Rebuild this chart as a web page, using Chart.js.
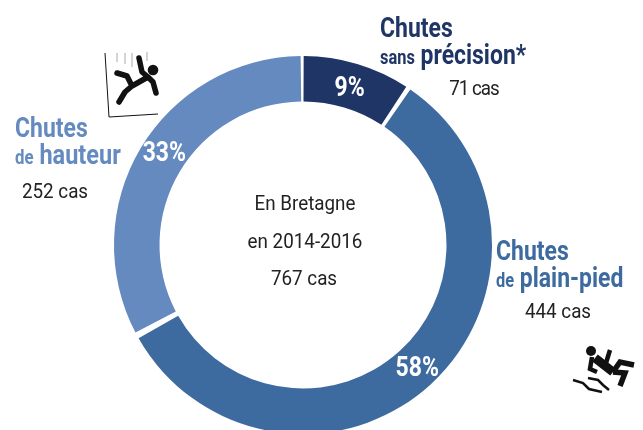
<!DOCTYPE html>
<html><head><meta charset="utf-8">
<script src="https://cdn.jsdelivr.net/npm/chart.js@4"></script>
<style>
html,body{margin:0;padding:0;background:#fff;width:643px;height:430px;overflow:hidden}
#wrap{position:relative;width:643px;height:430px;overflow:hidden}
canvas{position:absolute;left:0;top:0}
.t{position:absolute;white-space:nowrap;font-family:Roboto,sans-serif;line-height:1;color:#222}
.h{font-weight:700;font-size:28px;transform:scaleX(.82);transform-origin:0 0}
.s{font-size:20px}
.n{font-size:20px;color:#222;transform:scaleX(.94);transform-origin:50% 50%;text-align:center}
svg{position:absolute}
</style></head><body>
<div id="wrap">
<canvas id="c" width="643" height="436" style="width:643px;height:436px"></canvas>
<div class="t h" style="left:380px;top:14px;color:#1f3566">Chutes</div>
<div class="t h" style="left:380px;top:41px;color:#1f3566"><span class="s">sans</span> précision*</div>
<div class="t n" style="left:434px;top:78px;width:80px;letter-spacing:-1.1px">71 cas</div>
<div class="t h" style="left:496px;top:237px;color:#3d6b9f">Chutes</div>
<div class="t h" style="left:496px;top:264px;color:#3d6b9f"><span class="s">de</span> plain-pied</div>
<div class="t n" style="left:518px;top:301px;width:80px">444 cas</div>
<div class="t h" style="left:15px;top:114px;color:#648ac0">Chutes</div>
<div class="t h" style="left:15px;top:141px;color:#648ac0;transform:scaleX(.84)"><span class="s">de</span> hauteur</div>
<div class="t n" style="left:15px;top:181px;width:80px">252 cas</div>
<div class="t n" style="left:245px;top:193px;width:120px">En Bretagne</div>
<div class="t n" style="left:244px;top:231px;width:120px">en 2014-2016</div>
<div class="t n" style="left:264px;top:268px;width:80px">767 cas</div>
<svg style="left:90px;top:40px" width="90" height="90" viewBox="0 0 90 90" fill="none" stroke="#111">
<path d="M15 13L19 77L68 74" stroke-width="1"/>
<path d="M27 13V22M35 13V24M42 13V27M57 12V21" stroke="#aaa" stroke-width="1"/>
<circle cx="63" cy="30" r="5.3" fill="#111" stroke="none"/>
<path d="M49 18L52 32L58 37L42 46M58 37L63 42L66 53M27 33L37 36L42 46L35 52L29 62" stroke-width="5.5" stroke-linecap="round" stroke-linejoin="round"/>
</svg>
<svg style="left:560px;top:330px" width="83" height="80" viewBox="0 0 83 80" fill="none" stroke="#111">
<circle cx="31" cy="21" r="5" fill="#111" stroke="none"/>
<path d="M32 27L30 39L37 42" stroke-width="4.5"/>
<path d="M35 28L53 42" stroke-width="9"/>
<path d="M50 20L46 33" stroke-width="4.5"/>
<path d="M53 42L60 32L74 35M53 42L65 43L60 56" stroke-width="5.5"/>
<path d="M13 50L23 53L29 59L42 62M28 48L38 50L43 55L49 60" stroke-width="2.5"/>
</svg>
</div>
<script>
const categories = ["Chutes sans précision*", "Chutes de plain-pied", "Chutes de hauteur"];
const cases = [71, 444, 252];
const percentLabels = ["9%", "58%", "33%"];
const colors = ["#1f3566", "#3d6b9f", "#648ac0"];

const pctPlugin = {
  id: "pct",
  afterDatasetsDraw(chart) {
    const ctx = chart.ctx;
    const nudge = [[-1, 3], [2, 1], [4, -6]];
    chart.getDatasetMeta(0).data.forEach((arc, i) => {
      const p = arc.tooltipPosition();
      ctx.save();
      ctx.translate(p.x + nudge[i][0], p.y + nudge[i][1]);
      ctx.scale(0.82, 1);
      ctx.fillStyle = "#fff";
      ctx.font = '700 28px Roboto, sans-serif';
      ctx.textAlign = "center";
      ctx.textBaseline = "middle";
      ctx.fillText(percentLabels[i], 0, 0);
      ctx.restore();
    });
  }
};

new Chart(document.getElementById("c"), {
  type: "doughnut",
  data: { labels: categories, datasets: [{ data: cases, backgroundColor: colors, borderWidth: 0, spacing: 4, hoverOffset: 0 }] },
  options: {
    responsive: false,
    animation: false,
    radius: 187,
    cutout: 143,
    layout: { padding: { left: 112, right: 149, top: 54, bottom: 0 } },
    plugins: { legend: { display: false }, tooltip: { enabled: false }, title: { display: false } }
  },
  plugins: [pctPlugin]
});
</script>
</body></html>
